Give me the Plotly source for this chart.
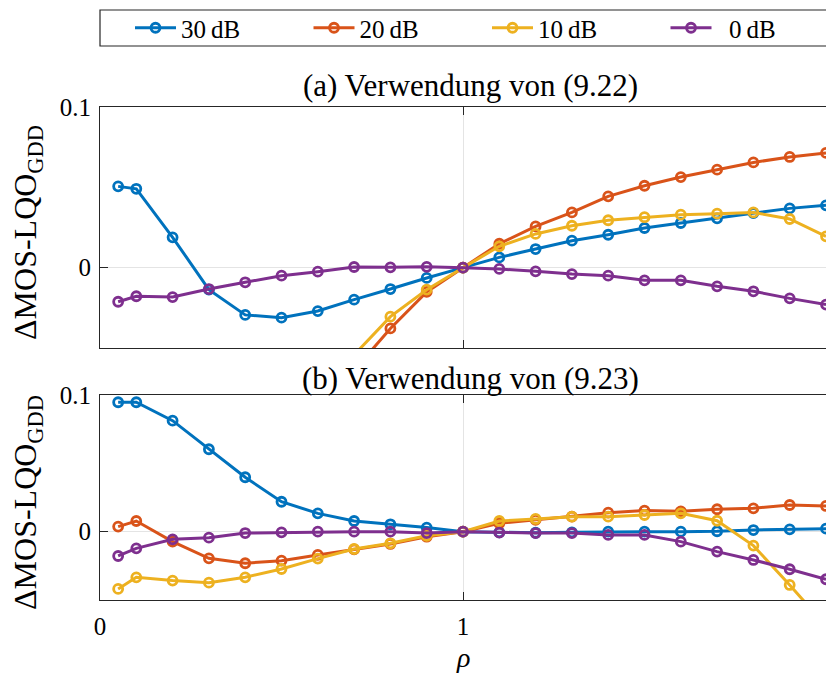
import plotly.graph_objects as go

# rho sampling grid
rho = [0.05, 0.1, 0.2, 0.3, 0.4, 0.5, 0.6, 0.7, 0.8, 0.9, 1.0,
       1.1, 1.2, 1.3, 1.4, 1.5, 1.6, 1.7, 1.8, 1.9, 2.0]

series_names = ["30\u2009dB", "20\u2009dB", "10\u2009dB", "\u20070\u2009dB"]
series_colors = ["#0072BD", "#D95319", "#EDB120", "#7E2F8E"]

# (a) Verwendung von (9.22)
a_30 = [0.0506, 0.0491, 0.0189, -0.0137, -0.0294, -0.0311, -0.0270, -0.0199, -0.0133, -0.0064, 0.0,
        0.0064, 0.0116, 0.0168, 0.0205, 0.0247, 0.0278, 0.0307, 0.0340, 0.0369, 0.0388]
a_20 = [-0.210, -0.200, -0.180, -0.160, -0.140, -0.115, -0.090, -0.064, -0.0378, -0.0151, 0.0,
        0.0149, 0.0257, 0.0344, 0.0444, 0.0510, 0.0564, 0.0610, 0.0655, 0.0689, 0.0714]
a_10 = [-0.170, -0.165, -0.150, -0.130, -0.110, -0.090, -0.072, -0.0543, -0.0305, -0.0137, 0.0,
        0.0133, 0.0210, 0.0261, 0.0295, 0.0314, 0.0330, 0.0336, 0.0344, 0.0303, 0.0195]
a_0 = [-0.0212, -0.0178, -0.0183, -0.0133, -0.0091, -0.0050, -0.0025, 0.0004, 0.0002, 0.0005, 0.0,
       -0.0008, -0.0023, -0.0040, -0.0050, -0.0079, -0.0079, -0.0116, -0.0147, -0.0191, -0.0230]

# (b) Verwendung von (9.23)
b_30 = [0.0947, 0.0947, 0.0812, 0.0603, 0.0398, 0.0219, 0.0134, 0.0078, 0.0054, 0.0030, 0.0,
        -0.0005, -0.0008, -0.0005, 0.0, 0.0, 0.0, 0.0003, 0.0012, 0.0017, 0.0022]
b_20 = [0.0037, 0.0078, -0.0073, -0.0195, -0.0231, -0.0212, -0.0170, -0.0129, -0.0090, -0.0037, 0.0,
        0.0061, 0.0086, 0.0110, 0.0139, 0.0154, 0.0149, 0.0164, 0.0171, 0.0195, 0.0188]
b_10 = [-0.0419, -0.0334, -0.0358, -0.0373, -0.0334, -0.0273, -0.0197, -0.0127, -0.0085, -0.0030, 0.0,
        0.0078, 0.0093, 0.0110, 0.0110, 0.0122, 0.0134, 0.0080, -0.0102, -0.0390, -0.0690]
b_0 = [-0.0178, -0.0122, -0.0056, -0.0044, -0.0010, -0.0005, 0.0, 0.0, 0.0, -0.0010, 0.0,
       -0.0007, -0.0010, -0.0010, -0.0024, -0.0024, -0.0073, -0.0146, -0.0207, -0.0275, -0.0348]

panel_a = [a_30, a_20, a_10, a_0]
panel_b = [b_30, b_20, b_10, b_0]

x_ticks = [0, 1, 2]
y_ticks = [0, 0.1]
y_range = [-0.05, 0.1]

W, H = 826, 676
ML = 100                # left margin in px
PW = W - ML             # plot-area width in px
FONT = "Liberation Serif, Times New Roman, serif"
AX = "#262626"


def px_x(px):
    """Pixel column -> paper x (paper spans the plot area)."""
    return (px - ML) / PW


def py(px):
    """Pixel row (from the top) -> paper y."""
    return 1 - px / H


fig = go.Figure()

for i, (name, col) in enumerate(zip(series_names, series_colors)):
    for panel, (xa, ya) in ((panel_a, ("x", "y")), (panel_b, ("x2", "y2"))):
        fig.add_trace(go.Scatter(
            x=rho, y=panel[i], xaxis=xa, yaxis=ya,
            mode="lines+markers", name=name, legendgroup=name,
            showlegend=(ya == "y"),
            line=dict(color=col, width=3),
            marker=dict(symbol="circle-open", size=9, color=col,
                        line=dict(width=2.8, color=col)),
        ))

common_x = dict(range=[0, 2], tickvals=x_ticks, ticks="inside", ticklen=8,
                tickcolor=AX, showline=True, linecolor=AX, linewidth=1.2,
                mirror="ticks", showgrid=True, gridcolor="#e4e4e4", gridwidth=1,
                zeroline=False, tickfont=dict(family=FONT, size=25, color="#000"))
common_y = dict(range=y_range, tickvals=y_ticks, ticktext=["0", "0.1"],
                ticks="inside", ticklen=8, tickcolor=AX, showline=True,
                linecolor=AX, linewidth=1.2, showgrid=True, gridcolor="#e4e4e4",
                gridwidth=1, zeroline=False, ticklabelstandoff=3,
                tickfont=dict(family=FONT, size=25, color="#000"))

fig.update_layout(
    width=W, height=H,
    margin=dict(l=ML, r=0, t=0, b=0, autoexpand=False),
    paper_bgcolor="white", plot_bgcolor="white",
    font=dict(family=FONT, color="#000"),
    xaxis=dict(common_x, anchor="y", showticklabels=False),
    yaxis=dict(common_y, domain=[py(348), py(107)], anchor="x"),
    xaxis2=dict(common_x, anchor="y2", matches="x", showticklabels=True,
                ticklabelstandoff=4),
    yaxis2=dict(common_y, domain=[py(600), py(395)], anchor="x2"),
    legend=dict(orientation="h", x=px_x(130), xanchor="left",
                y=py(28), yanchor="middle", bgcolor="rgba(0,0,0,0)",
                borderwidth=0, itemwidth=41, entrywidth=122.5,
                entrywidthmode="pixels", font=dict(family=FONT, size=25),
                itemclick=False, itemdoubleclick=False),
    showlegend=True,
)

# Legend frame (continues past the right edge of the figure)
fig.add_shape(type="rect", xref="paper", yref="paper",
              x0=0, x1=1.05, y0=py(46), y1=py(10),
              line=dict(color=AX, width=1.2), fillcolor="white", layer="below")

# Panel titles
fig.add_annotation(text="(a) Verwendung von (9.22)", xref="paper", yref="paper",
                   x=px_x(470), y=py(86), xanchor="center", yanchor="middle",
                   showarrow=False, font=dict(family=FONT, size=31))
fig.add_annotation(text="(b) Verwendung von (9.23)", xref="paper", yref="paper",
                   x=px_x(470), y=py(378), xanchor="center", yanchor="middle",
                   showarrow=False, font=dict(family=FONT, size=31))

# Axis titles
for ycen in (233, 503):
    fig.add_annotation(text="\u0394MOS-LQO<sub>GDD</sub>", xref="paper", yref="paper",
                       x=px_x(27), y=py(ycen), xanchor="center", yanchor="middle",
                       textangle=-90, showarrow=False,
                       font=dict(family=FONT, size=32))
fig.add_annotation(text="<i>\u03c1</i>", xref="paper", yref="paper",
                   x=px_x(463), y=py(657), xanchor="center", yanchor="middle",
                   showarrow=False, font=dict(family=FONT, size=28))

fig.write_html("out.html")
